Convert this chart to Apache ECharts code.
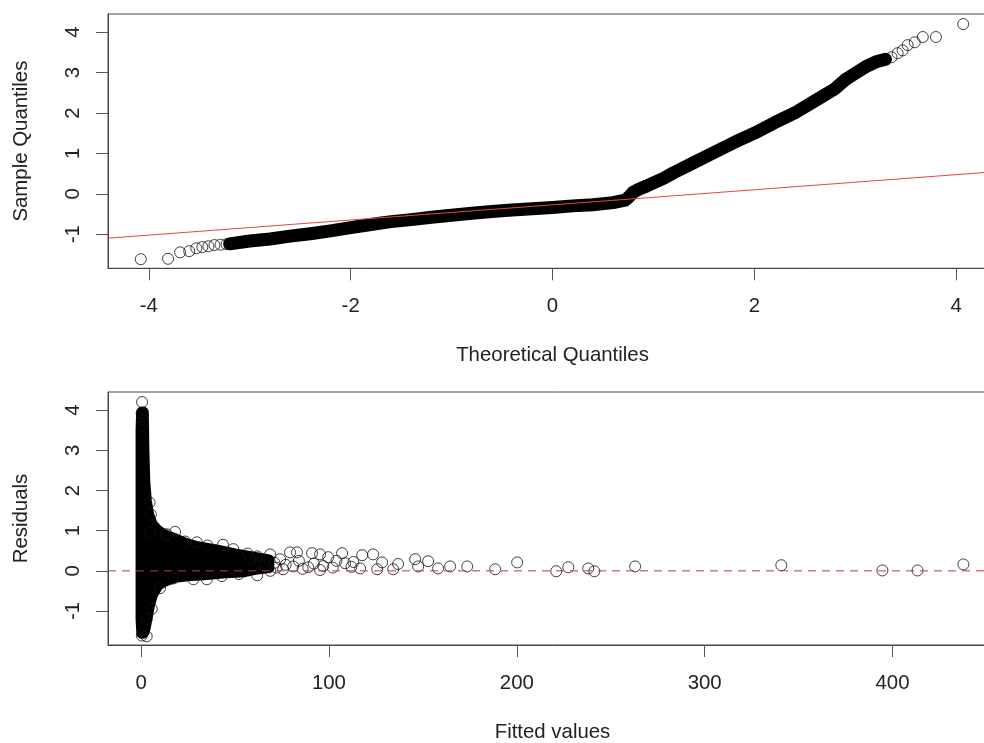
<!DOCTYPE html>
<html><head><meta charset="utf-8">
<script src="https://cdn.jsdelivr.net/npm/echarts@6/dist/echarts.min.js"></script>
<style>html,body{margin:0;padding:0;background:#fff;overflow:hidden}#c{width:1010px;height:743px}</style>
</head><body><div id="c"></div>
<script>
// ---------- Top panel: Normal Q-Q plot ----------
const qqTailX = [-4.08, -3.81, -3.69, -3.60, -3.53, -3.47, -3.41, -3.35, -3.29, -3.23, 3.36, 3.42, 3.47, 3.52, 3.59, 3.67, 3.80, 4.07];
const qqTailY = [-1.62, -1.61, -1.45, -1.42, -1.35, -1.32, -1.30, -1.27, -1.26, -1.25, 3.38, 3.48, 3.55, 3.68, 3.75, 3.88, 3.88, 4.20];
const qqBandX = [-3.2, -3.0, -2.8, -2.6, -2.4, -2.2, -2.0, -1.8, -1.6, -1.4, -1.2, -1.0, -0.8, -0.6, -0.4, -0.2, 0.0, 0.2, 0.4, 0.6, 0.72, 0.76, 0.80, 0.86, 0.93, 1.0, 1.1, 1.2, 1.4, 1.6, 1.8, 2.0, 2.2, 2.4, 2.6, 2.8, 2.9, 3.0, 3.1, 3.2, 3.3];
const qqBandY = [-1.24, -1.17, -1.12, -1.05, -0.99, -0.92, -0.84, -0.76, -0.69, -0.64, -0.58, -0.53, -0.48, -0.44, -0.40, -0.37, -0.34, -0.30, -0.27, -0.22, -0.16, -0.07, 0.04, 0.12, 0.19, 0.27, 0.38, 0.52, 0.77, 1.02, 1.27, 1.50, 1.76, 2.00, 2.30, 2.60, 2.82, 2.98, 3.14, 3.26, 3.33];
const qqLineX = [-4.41, 4.41];
const qqLineY = [-1.10, 0.55];
const qqXTicks = [-4, -2, 0, 2, 4];

// ---------- Bottom panel: Residuals vs Fitted ----------
// envelope of the dense point cloud (point centres)
const cloudFv = [0.3, 1.2, 1.5, 2.0, 2.8, 4, 6, 9, 13, 18, 24, 30, 40, 50, 60, 68,
                 68, 60, 55, 45, 35, 25, 18, 12, 9, 6, 4.5, 3.5, 2.5, 1.8, 1.2, 0.4, 0, 0];
const cloudR  = [3.95, 3.95, 3.0, 2.2, 1.75, 1.4, 1.15, 1.0, 0.88, 0.8, 0.68, 0.6, 0.52, 0.42, 0.34, 0.27,
                 0.08, 0.03, -0.02, -0.05, -0.09, -0.12, -0.16, -0.27, -0.36, -0.6, -0.85, -1.1, -1.35, -1.5, -1.55, -1.55, -1.2, 3.5];
// individually visible points
const resFv = [0.53, 0.3, 0.7, 0.6, 4.5, 5.2, 4.8, 13.1, 18.1, 13.8, 23.4, 29.7, 35.4, 43.6, 49.1, 56.7, 61.8, 68.7, 74, 79.3,
               83, 91, 95.3, 99.6, 107, 108.6, 117.7, 123.5, 128.3, 116.6, 125.7, 134.2, 136.8, 145.9, 147.5, 152.8, 158.1, 164.5, 173.6, 188.5,
               200.2, 221, 227.4, 238, 241.3, 263, 340.8, 394.6, 413.3, 437.7,
               17.2, 27.9, 35, 43, 10.1, 5.7, 3, 3, 0.4, 61.8, 68.7, 75.6, 81, 89, 95.3, 52,
               58, 63, 66, 71, 72, 77, 84, 86, 92, 97, 102, 104, 112, 113];
const resR  = [4.20, 3.92, 3.75, 3.59, 1.70, 1.40, 0.95, 0.88, 0.97, 0.91, 0.73, 0.71, 0.63, 0.65, 0.54, 0.43, 0.36, 0.41, 0.29, 0.46,
               0.46, 0.44, 0.41, 0.34, 0.44, 0.19, 0.39, 0.41, 0.21, 0.06, 0.04, 0.04, 0.17, 0.29, 0.11, 0.24, 0.06, 0.11, 0.11, 0.04,
               0.21, -0.01, 0.09, 0.06, -0.01, 0.11, 0.14, 0.01, 0.01, 0.16,
               -0.19, -0.21, -0.21, -0.13, -0.43, -0.95, -1.20, -1.63, -1.61, -0.11, 0.00, 0.04, 0.11, 0.09, 0.02, -0.08,
               0.30, 0.22, 0.12, 0.20, 0.08, 0.15, 0.25, 0.05, 0.18, 0.12, 0.08, 0.25, 0.10, 0.22];
const zeroLineX = [-17.6, 455.6];
const zeroLineY = [0, 0];
const fvTicks = [0, 100, 200, 300, 400];
const resTicks = [-1, 0, 1, 2, 3, 4];

const FONT = '"Liberation Sans", Arial, Helvetica, sans-serif';
const FS = 20.4;
const zip = (a, b) => a.map((v, i) => [v, b[i]]);

function xAx(gi, min, max, ticks, name) {
  return {
    type: 'value', gridIndex: gi, min: min, max: max,
    axisLine: { show: true, onZero: false, lineStyle: { color: '#444', width: 1 } },
    axisTick: { show: true, inside: false, length: 12, customValues: ticks, lineStyle: { color: '#555', width: 1 } },
    axisLabel: { customValues: ticks, margin: 28, fontSize: FS, color: '#222', fontFamily: FONT },
    splitLine: { show: false },
    name: name, nameLocation: 'middle', nameGap: 77,
    nameTextStyle: { fontSize: FS, color: '#222', fontFamily: FONT }
  };
}
function yAx(gi, ticks, name) {
  return {
    type: 'value', gridIndex: gi, min: -1.845, max: 4.45,
    axisLine: { show: true, onZero: false, lineStyle: { color: '#444', width: 1 } },
    axisTick: { show: true, inside: false, length: 12, customValues: ticks, lineStyle: { color: '#555', width: 1 } },
    axisLabel: { customValues: ticks, margin: 25, rotate: 90, fontSize: FS, color: '#222', fontFamily: FONT },
    splitLine: { show: false },
    name: name, nameLocation: 'middle', nameGap: 77,
    nameTextStyle: { fontSize: FS, color: '#222', fontFamily: FONT }
  };
}
const circleStyle = { color: 'rgba(0,0,0,0)', borderColor: '#111', borderWidth: 1 };

const chart = echarts.init(document.getElementById('c'), null, { renderer: 'canvas' });
chart.setOption({
  animation: false,
  backgroundColor: '#fff',
  grid: [
    { left: 108, top: 14, width: 889, height: 254.3, show: true, borderColor: '#444', borderWidth: 1, backgroundColor: 'rgba(0,0,0,0)' },
    { left: 108, top: 392, width: 889, height: 254.3, show: true, borderColor: '#444', borderWidth: 1, backgroundColor: 'rgba(0,0,0,0)' }
  ],
  xAxis: [
    xAx(0, -4.405, 4.405, qqXTicks, 'Theoretical Quantiles'),
    xAx(1, -17.6, 455.6, fvTicks, 'Fitted values')
  ],
  yAxis: [
    yAx(0, resTicks, 'Sample Quantiles'),
    yAx(1, resTicks, 'Residuals')
  ],
  series: [
    { type: 'line', xAxisIndex: 0, yAxisIndex: 0, data: zip(qqBandX, qqBandY), symbol: 'none', silent: true, z: 2,
      lineStyle: { color: '#000', width: 13, cap: 'round', join: 'round' } },
    { type: 'scatter', xAxisIndex: 0, yAxisIndex: 0, data: zip(qqTailX, qqTailY), symbol: 'circle', symbolSize: 11, silent: true, z: 3,
      itemStyle: circleStyle },
    { type: 'line', xAxisIndex: 0, yAxisIndex: 0, data: zip(qqLineX, qqLineY), symbol: 'none', silent: true, z: 4,
      lineStyle: { color: '#e04848', width: 1 } },
    { type: 'custom', xAxisIndex: 1, yAxisIndex: 1, data: zip(cloudFv, cloudR), silent: true, z: 2,
      renderItem: function (params, api) {
        if (params.dataIndex !== 0) return null;
        const pts = cloudFv.map((v, i) => api.coord([v, cloudR[i]]));
        return { type: 'polygon', shape: { points: pts },
                 style: { fill: '#000', stroke: '#000', lineWidth: 11, lineJoin: 'round' } };
      } },
    { type: 'scatter', xAxisIndex: 1, yAxisIndex: 1, data: zip(resFv, resR), symbol: 'circle', symbolSize: 11, silent: true, z: 3,
      itemStyle: circleStyle },
    { type: 'line', xAxisIndex: 1, yAxisIndex: 1, data: zip(zeroLineX, zeroLineY), symbol: 'none', silent: true, z: 4,
      lineStyle: { color: '#b83a3a', width: 1, type: [8, 6] } }
  ]
});
</script>
</body></html>
